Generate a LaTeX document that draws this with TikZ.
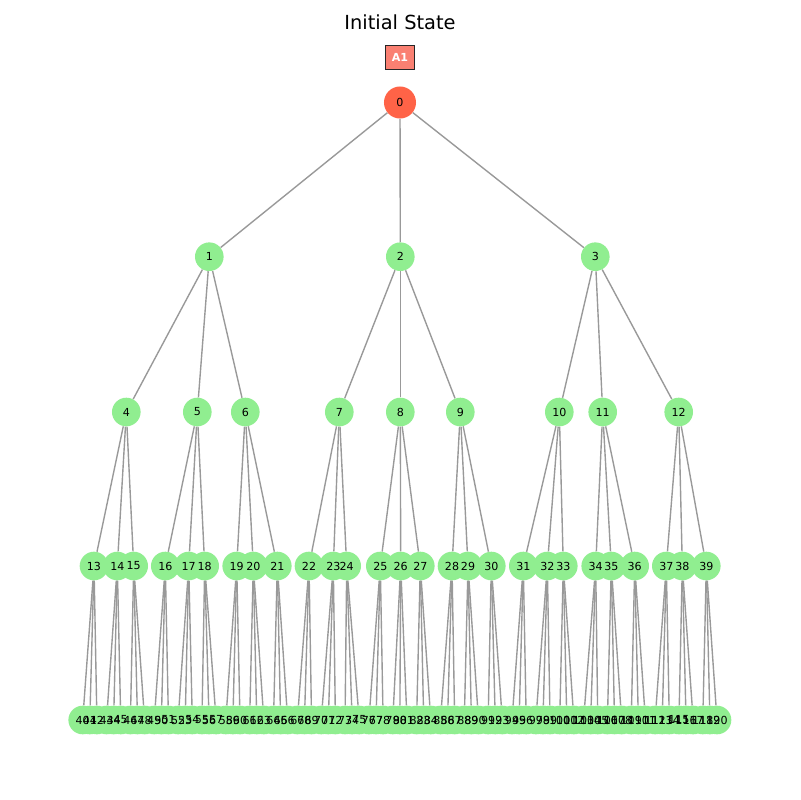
\documentclass[tikz,border=0pt]{standalone}
\usepackage{fontspec}
\setmainfont{DejaVu Sans}
\definecolor{lgreen}{HTML}{90EE90}
\definecolor{tomatoc}{HTML}{FF6347}
\definecolor{salmonc}{HTML}{FA8072}
\definecolor{edgec}{HTML}{999999}
\pgfdeclarelayer{bg}
\pgfsetlayers{bg,main}
\begin{document}
\begin{tikzpicture}[x=0.01in,y=-0.01in]
\tikzset{
  gnode/.style={circle,fill=lgreen,minimum size=0.286in,inner sep=0pt},
  rootnode/.style={circle,fill=tomatoc,minimum size=0.32in,inner sep=0pt},
  lbl/.style={font=\fontsize{8}{9.6}\selectfont,inner sep=0pt,text=black},
  edge/.style={draw=edgec,line width=1pt},
  agentbox/.style={draw=black!85,line width=0.7pt,fill=salmonc,text=white,
    font=\fontsize{8}{9.6}\selectfont\bfseries,minimum width=0.29in,minimum height=0.24in,inner sep=0pt},
  titlest/.style={font=\fontsize{14}{16}\selectfont,inner sep=0pt,anchor=base}
}
\useasboundingbox (0,0) rectangle (800,800);

\node[titlest] (title) at (400,30) {Initial State};
\node[agentbox] (a1) at (400,57) {A1};

% circles
\node[rootnode] (n0) at (400,102.5) {};
\foreach \i/\x in {1/209.3,2/400.3,3/595.3}
  \node[gnode] (n\i) at (\x,256.7) {};
\foreach \i/\x in {4/126.3,5/197.3,6/245.3,7/339.3,8/400.3,9/460.3,10/559.3,11/602.7,12/678.7}
  \node[gnode] (n\i) at (\x,412) {};
\foreach \i/\x in {13/94,14/117.3,15/133.7,16/165.3,17/188.7,18/204.7,19/236.7,20/253.3,21/277.3,
  22/309,23/333.3,24/346.7,25/380.3,26/400.7,27/420.3,28/452,29/468,30/491.3,
  31/523.3,32/547.3,33/563.3,34/595.7,35/611.3,36/634.7,37/666.3,38/682.3,39/706.3}
  \node[gnode] (n\i) at (\x,566) {};
\foreach \k in {0,...,80}{
  \pgfmathtruncatemacro\g{\k/3}
  \pgfmathtruncatemacro\j{\k-3*\g}
  \pgfmathsetmacro\xx{82.7+\g*23.85+\j*7.1}
  \pgfmathtruncatemacro\id{40+\k}
  \node[gnode] (n\id) at (\xx,720) {};
}

% edges
\begin{pgfonlayer}{bg}
\fill[white] (0,0) rectangle (800,800);
\foreach \c in {1,2,3} \draw[edge] (n0) -- (n\c);
\foreach \p in {1,...,12}{
  \foreach \j in {0,1,2}{
    \pgfmathtruncatemacro\c{3*\p+1+\j}
    \draw[edge] (n\p) -- (n\c);
  }
}
\foreach \p in {13,...,39}{
  \foreach \j in {0,1,2}{
    \pgfmathtruncatemacro\c{40+3*(\p-13)+\j}
    \draw[edge] (n\p) -- (n\c);
  }
}
\end{pgfonlayer}

% labels
\foreach \i in {0,...,120}
  \node[lbl] (l\i) at (n\i) {\i};
\end{tikzpicture}
\end{document}
